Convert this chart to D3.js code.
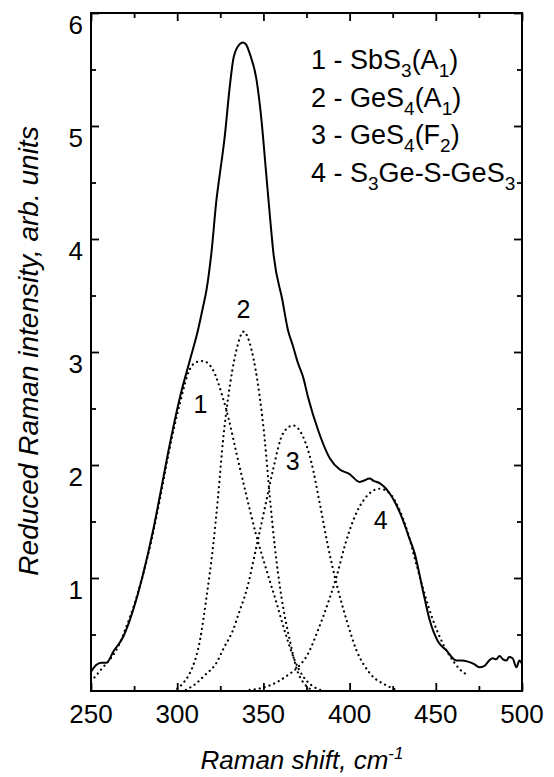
<!DOCTYPE html>
<html>
<head>
<meta charset="utf-8">
<script src="https://cdn.jsdelivr.net/npm/d3@7"></script>
<style>
  html, body { margin: 0; padding: 0; background: #fff; }
  svg { display: block; }
  text { font-family: "Liberation Sans", Arial, Helvetica, sans-serif; fill: #000; }
</style>
</head>
<body>
<svg id="chart" width="554" height="777"></svg>
<script>
// ---- data ----
const xTickLabels = [250, 300, 350, 400, 450, 500];
const yTickLabels = [1, 2, 3, 4, 5, 6];

// measured spectrum (solid line): [Raman shift, reduced intensity]
const measuredX = [250, 253, 256, 259, 263, 268.7, 274.5, 280.3, 286, 291, 295, 301.6, 307.4, 312, 315, 317, 320, 322.8, 323.7, 327.6, 330.5, 332.4, 335, 338.2, 340, 342.1, 346, 348.9, 351.5, 353.5, 356, 361, 364.3, 367, 370.1, 373, 375.9, 381.7, 388.5, 394.3, 400, 405.8, 408, 411.6, 414, 417.4, 423.2, 427, 431, 434, 437.7, 442.5, 446.4, 451.2, 456.1, 461.9, 465, 468.6, 472, 475.3, 478, 481, 483, 485, 487, 489, 491, 492.5, 494.5, 496.8, 498.5, 500];
const measuredY = [0.17, 0.23, 0.25, 0.25, 0.35, 0.48, 0.72, 1.04, 1.42, 1.81, 2.13, 2.60, 2.93, 3.19, 3.40, 3.55, 3.90, 4.35, 4.46, 4.91, 5.35, 5.58, 5.70, 5.74, 5.72, 5.64, 5.41, 5.05, 4.60, 4.25, 3.85, 3.46, 3.19, 3.06, 2.90, 2.78, 2.60, 2.31, 2.06, 1.96, 1.92, 1.85, 1.86, 1.88, 1.86, 1.84, 1.75, 1.65, 1.51, 1.38, 1.22, 0.89, 0.63, 0.44, 0.36, 0.27, 0.27, 0.26, 0.24, 0.21, 0.22, 0.27, 0.29, 0.28, 0.31, 0.28, 0.27, 0.30, 0.29, 0.21, 0.27, 0.24];

// fitted components (dotted lines)
const band1X = [252, 257, 262, 266, 270, 275, 280, 285, 290, 295, 301.6, 307.4, 311, 315, 320.8, 326, 330, 334, 340, 346, 351.8, 357.6, 363.4, 368.2, 373, 378, 383];
const band1Y = [0.12, 0.21, 0.30, 0.40, 0.55, 0.76, 1.02, 1.33, 1.70, 2.10, 2.55, 2.85, 2.91, 2.92, 2.84, 2.62, 2.40, 2.13, 1.74, 1.37, 1.07, 0.78, 0.48, 0.27, 0.13, 0.05, 0.01];
const band2X = [300, 304, 307.4, 313.2, 317, 320.8, 323.7, 326.6, 329.6, 334.4, 338.5, 343.1, 347.9, 350.8, 353.7, 356.6, 360.5, 365.3, 370.1, 374, 378];
const band2Y = [0.02, 0.08, 0.16, 0.45, 0.83, 1.28, 1.72, 2.22, 2.60, 3.02, 3.18, 3.02, 2.60, 2.22, 1.72, 1.28, 0.83, 0.45, 0.16, 0.06, 0.01];
const band3X = [305, 311.2, 316, 322.8, 327, 332.4, 336, 340.2, 346, 351.8, 355.6, 361.4, 367.2, 373, 377.9, 382.7, 387.5, 392.4, 398.2, 404, 411.6, 421.3, 427];
const band3Y = [0.01, 0.07, 0.14, 0.25, 0.38, 0.54, 0.70, 0.89, 1.28, 1.69, 1.96, 2.28, 2.35, 2.25, 2.02, 1.66, 1.28, 0.95, 0.63, 0.36, 0.16, 0.05, 0.01];
const band4X = [342, 350, 358, 365, 369.2, 375.9, 381.7, 387.5, 392.4, 397.1, 402.9, 409.7, 417.4, 423.2, 429, 433.8, 438.6, 443.5, 448.3, 454.1, 459.9, 464, 468.6];
const band4Y = [0.01, 0.03, 0.08, 0.15, 0.20, 0.33, 0.54, 0.78, 1.01, 1.28, 1.54, 1.72, 1.79, 1.75, 1.60, 1.40, 1.13, 0.86, 0.63, 0.42, 0.27, 0.19, 0.14];

// band number labels placed next to each component
const bandNames = ["1", "2", "3", "4"];
const bandLabelX = [313.5, 338.5, 367, 418];
const bandLabelY = [2.46, 3.30, 1.96, 1.43];

// legend entries: segments [text, mode] with mode "" | "sub"
const legendEntries = [
  [["1 - SbS", ""], ["3", "sub"], ["(A", ""], ["1", "sub"], [")", ""]],
  [["2 - GeS", ""], ["4", "sub"], ["(A", ""], ["1", "sub"], [")", ""]],
  [["3 - GeS", ""], ["4", "sub"], ["(F", ""], ["2", "sub"], [")", ""]],
  [["4 - S", ""], ["3", "sub"], ["Ge-S-GeS", ""], ["3", "sub"]]
];

// ---- drawing ----
const svg = d3.select("#chart");
const L = 91, R = 522, T = 13, B = 691;
const x = d3.scaleLinear().domain([250, 500]).range([L, R]);
const y = d3.scaleLinear().domain([0, 6]).range([B, T]);

const zip = (xs, ys) => xs.map((v, i) => [v, ys[i]]);
const line = d3.line().x(d => x(d[0])).y(d => y(d[1])).curve(d3.curveMonotoneX);

// frame
svg.append("rect").attr("x", L).attr("y", T).attr("width", R - L).attr("height", B - T)
  .attr("fill", "none").attr("stroke", "#000").attr("stroke-width", 2);

// ticks (inward) on all four sides using d3 axes
const xMinor = d3.range(275, 500, 50);
const yMinor = d3.range(0.5, 6, 1);
function tickAxis(axisFn, scale, values, size, transform) {
  const g = svg.append("g").attr("transform", transform)
    .call(axisFn(scale).tickValues(values).tickSizeInner(size).tickSizeOuter(0).tickFormat(""));
  g.select(".domain").remove();
  g.selectAll(".tick line").attr("stroke", "#000").attr("stroke-width", 1.8);
}
tickAxis(d3.axisTop, x, xTickLabels, 8, `translate(0,${B})`);
tickAxis(d3.axisTop, x, xMinor, 5, `translate(0,${B})`);
tickAxis(d3.axisBottom, x, xTickLabels, 8, `translate(0,${T})`);
tickAxis(d3.axisBottom, x, xMinor, 5, `translate(0,${T})`);
tickAxis(d3.axisRight, y, yTickLabels, 8, `translate(${L},0)`);
tickAxis(d3.axisRight, y, yMinor, 5, `translate(${L},0)`);
tickAxis(d3.axisLeft, y, yTickLabels, 8, `translate(${R},0)`);
tickAxis(d3.axisLeft, y, yMinor, 5, `translate(${R},0)`);

// tick labels
svg.append("g").selectAll("text").data(xTickLabels).join("text")
  .attr("x", d => x(d)).attr("y", 723).attr("text-anchor", "middle")
  .attr("font-size", 26).text(d => d);
svg.append("g").selectAll("text").data(yTickLabels).join("text")
  .attr("x", 83).attr("y", d => y(d) + 21).attr("text-anchor", "end")
  .attr("font-size", 26).text(d => d);

// axis titles
const xt = svg.append("text").attr("x", 302).attr("y", 769).attr("text-anchor", "middle")
  .attr("font-size", 26).attr("font-style", "italic");
xt.append("tspan").text("Raman shift, cm");
xt.append("tspan").attr("dy", -10).attr("font-size", 17).text("-1");

svg.append("text").attr("transform", "translate(38,351) rotate(-90)")
  .attr("text-anchor", "middle").attr("font-size", 28).attr("font-style", "italic")
  .text("Reduced Raman intensity, arb. units");

// components (dotted)
[zip(band1X, band1Y), zip(band2X, band2Y), zip(band3X, band3Y), zip(band4X, band4Y)].forEach(d => {
  svg.append("path").datum(d).attr("d", line).attr("fill", "none")
    .attr("stroke", "#000").attr("stroke-width", 2.2)
    .attr("stroke-linecap", "round").attr("stroke-dasharray", "0.1 5");
});

// measured spectrum (solid)
svg.append("path").datum(zip(measuredX, measuredY)).attr("d", line).attr("fill", "none")
  .attr("stroke", "#000").attr("stroke-width", 2).attr("stroke-linejoin", "round");

// band number labels
svg.append("g").selectAll("text").data(bandNames).join("text")
  .attr("x", (d, i) => x(bandLabelX[i])).attr("y", (d, i) => y(bandLabelY[i]))
  .attr("text-anchor", "middle").attr("font-size", 25).text(d => d);

// legend
const legendX = 311, legendY0 = 69, legendDY = 37.7;
legendEntries.forEach((segs, i) => {
  const t = svg.append("text").attr("x", legendX).attr("y", legendY0 + i * legendDY).attr("font-size", 27);
  let shifted = 0;
  segs.forEach(([s, mode]) => {
    const target = mode === "sub" ? 8 : 0;
    t.append("tspan").attr("dy", target - shifted)
      .attr("font-size", mode === "sub" ? 19 : 27).text(s);
    shifted = target;
  });
});
</script>
</body>
</html>
